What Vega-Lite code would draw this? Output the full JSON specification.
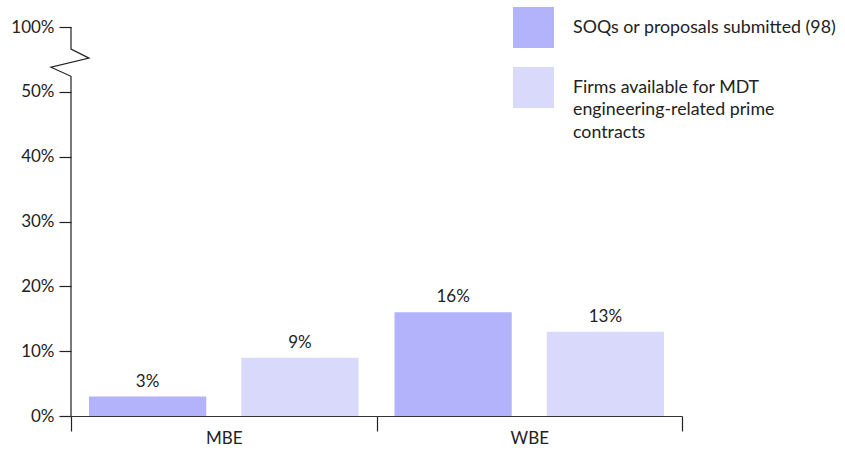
{
  "$schema": "https://vega.github.io/schema/vega-lite/v6.json",
  "autosize": {"type": "none"},
  "width": 611,
  "height": 389,
  "padding": {"left": 71, "top": 27, "right": 163, "bottom": 35},
  "background": "white",
  "config": {
    "view": {"stroke": null},
    "font": "Lato",
    "style": {"guide-label": {"lineHeight": 22.5}},
    "axis": {"labelFont": "Lato", "labelFontSize": 17, "labelColor": "#222222", "domainColor": "#222222", "tickColor": "#222222", "grid": false, "title": null, "domainWidth": 1.2, "tickWidth": 1.2}
  },
  "layer": [
    {
      "data": {"values": [
        {"group": "MBE", "series": "SOQs or proposals submitted (98)", "value": 3, "label": "3%"},
        {"group": "MBE", "series": "Firms available for MDT engineering-related prime contracts", "value": 9, "label": "9%"},
        {"group": "WBE", "series": "SOQs or proposals submitted (98)", "value": 16, "label": "16%"},
        {"group": "WBE", "series": "Firms available for MDT engineering-related prime contracts", "value": 13, "label": "13%"}
      ]},
      "encoding": {
        "x": {"field": "group", "type": "nominal", "sort": null,
          "scale": {"paddingInner": 0, "paddingOuter": 0},
          "axis": {"labelAngle": 0, "tickBand": "extent", "tickSize": 15, "labelPadding": -1, "labelFontSize": 17, "domainColor": "#333333"}},
        "xOffset": {"field": "series", "type": "nominal", "sort": null,
          "scale": {"paddingInner": 0.23, "paddingOuter": 0.118}},
        "y": {"field": "value", "type": "quantitative",
          "scale": {"domain": [0, 60], "nice": false, "zero": true},
          "axis": {"values": [0, 10, 20, 30, 40, 50, 60], "domain": false, "tickSize": 12, "labelPadding": 5,
            "labelExpr": "datum.value == 60 ? '100%' : datum.value + '%'"}}
      },
      "layer": [
        {
          "mark": {"type": "bar"},
          "encoding": {
            "color": {"field": "series", "type": "nominal", "sort": null,
              "scale": {"domain": ["SOQs or proposals submitted (98)", "Firms available for MDT engineering-related prime contracts"], "range": ["#B3B3FB", "#D9D9FB"]},
              "legend": {"title": null, "orient": "none", "legendX": 442, "legendY": -20, "padding": 0,
                "symbolType": "square", "symbolSize": 1681, "symbolStrokeWidth": 0, "symbolOpacity": 1,
                "labelFont": "Lato", "labelFontSize": 17.8, "labelColor": "#222222", "labelOffset": 19, "labelLimit": 400,
                "rowPadding": 19, "labelBaseline": "middle",
                "labelExpr": "datum.label == 'Firms available for MDT engineering-related prime contracts' ? ['Firms available for MDT', 'engineering-related prime', 'contracts'] : datum.label"}
            }
          }
        },
        {
          "mark": {"type": "text", "baseline": "alphabetic", "dy": -10, "font": "Lato", "fontSize": 17, "color": "#222222"},
          "encoding": {"text": {"field": "label", "type": "nominal"}}
        }
      ]
    },
    {
      "data": {"values": [
        {"order": 1, "px": 0, "py": 0},
        {"order": 2, "px": 0, "py": 52.4},
        {"order": 3, "px": -0.0327, "py": 53.8},
        {"order": 4, "px": 0.0295, "py": 55.2},
        {"order": 5, "px": 0, "py": 56.6},
        {"order": 6, "px": 0, "py": 60}
      ]},
      "mark": {"type": "line", "color": "#222222", "strokeWidth": 1.2, "clip": false},
      "encoding": {
        "x": {"field": "px", "type": "quantitative", "scale": {"domain": [0, 1], "nice": false, "zero": false}, "axis": null},
        "y": {"field": "py", "type": "quantitative"},
        "order": {"field": "order", "type": "quantitative"}
      }
    }
  ],
  "resolve": {"scale": {"x": "independent"}}
}
